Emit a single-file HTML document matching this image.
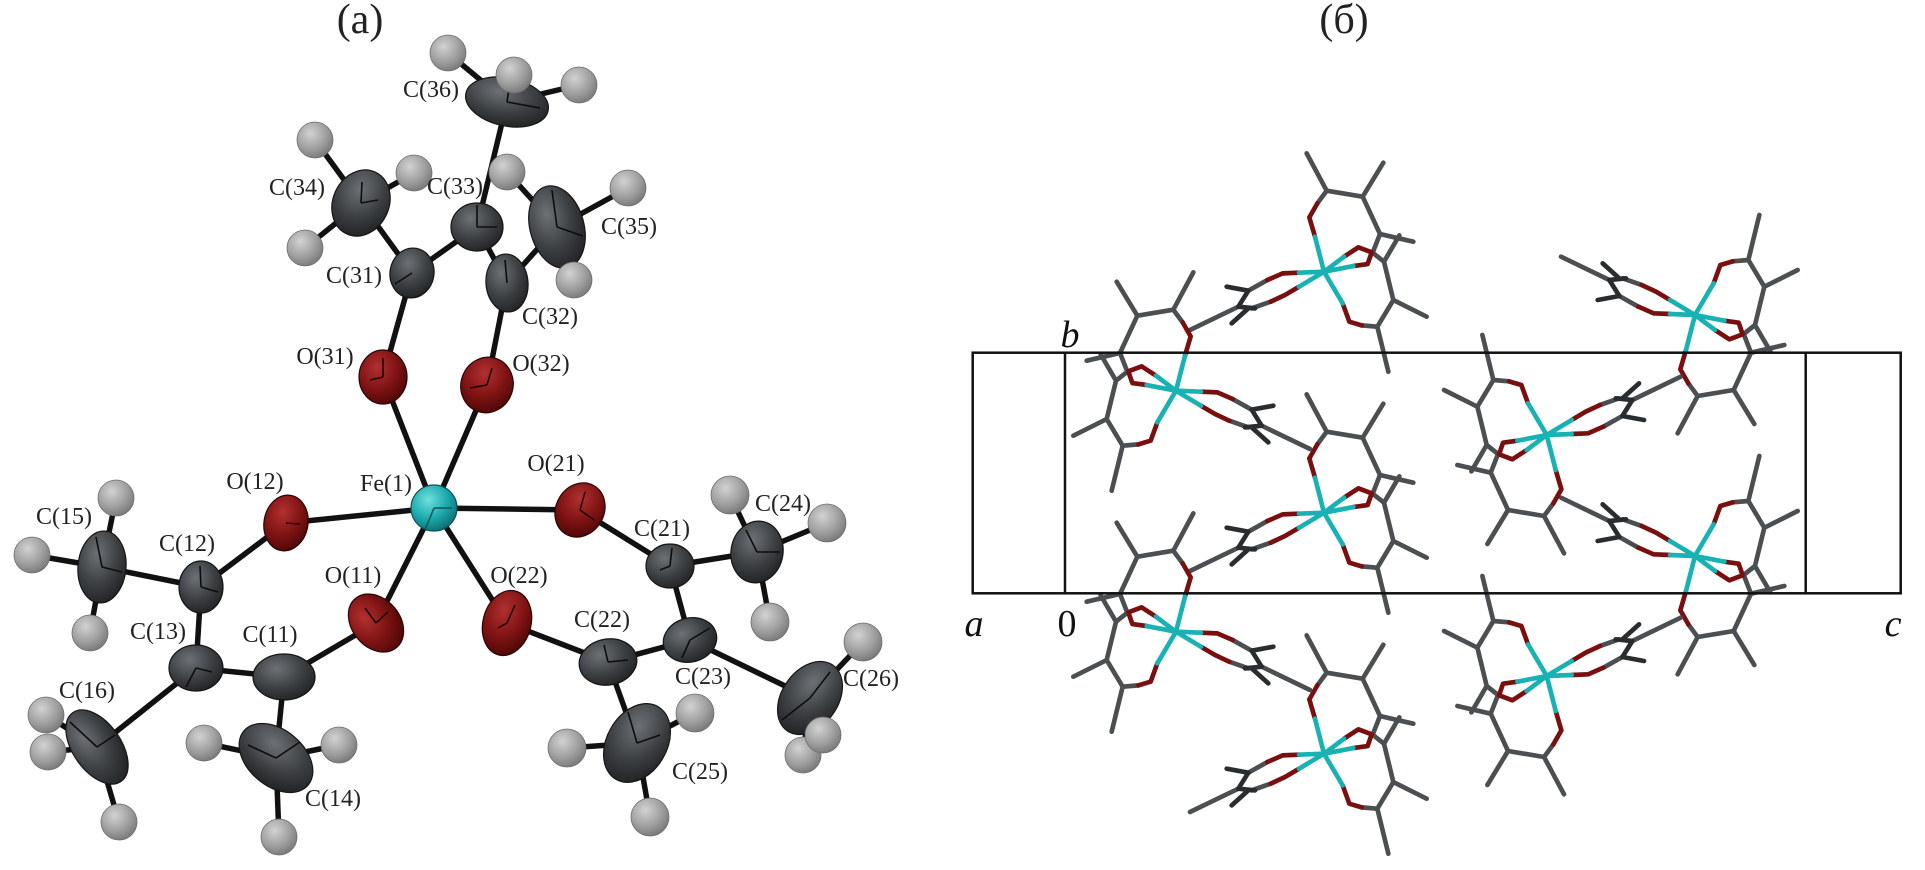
<!DOCTYPE html>
<html>
<head>
<meta charset="utf-8">
<style>
  html,body{margin:0;padding:0;background:#fff;}
  svg{display:block;}
  .lbl{font-family:"Liberation Serif",serif;font-size:24px;fill:#222;text-anchor:middle;}
  .ttl{font-family:"Liberation Serif","Noto Serif CJK SC",serif;font-size:42px;fill:#222;text-anchor:middle;}
  .ax{font-family:"Liberation Serif",serif;font-size:38px;fill:#111;text-anchor:middle;font-style:italic;}
  .ax0{font-family:"Liberation Serif",serif;font-size:38px;fill:#111;text-anchor:middle;}
</style>
</head>
<body>
<svg width="1925" height="870" viewBox="0 0 1925 870" xmlns="http://www.w3.org/2000/svg">
<defs>
  <radialGradient id="gC" cx="0.38" cy="0.32" r="0.7">
    <stop offset="0" stop-color="#6d7175"/>
    <stop offset="0.6" stop-color="#3d4043"/>
    <stop offset="1" stop-color="#232527"/>
  </radialGradient>
  <radialGradient id="gH" cx="0.38" cy="0.32" r="0.7">
    <stop offset="0" stop-color="#d2d2d2"/>
    <stop offset="0.65" stop-color="#9c9c9c"/>
    <stop offset="1" stop-color="#7a7a7a"/>
  </radialGradient>
  <radialGradient id="gO" cx="0.38" cy="0.32" r="0.7">
    <stop offset="0" stop-color="#b23030"/>
    <stop offset="0.6" stop-color="#7e1313"/>
    <stop offset="1" stop-color="#520808"/>
  </radialGradient>
  <radialGradient id="gFe" cx="0.38" cy="0.32" r="0.7">
    <stop offset="0" stop-color="#6fe0e0"/>
    <stop offset="0.6" stop-color="#1ba8ab"/>
    <stop offset="1" stop-color="#0f7275"/>
  </radialGradient>

  <g id="mA" transform="scale(0.33333) translate(-432,-395)" fill="none" stroke-linecap="round" stroke-linejoin="round" stroke-width="14">
    <path stroke="#4b4f52" d="M412,190 L440,152 L548,170 L600,282 L700,305 M440,152 L380,40 M548,170 L610,68 M600,282 L578,338 L612,365 L640,480 L740,530 M658,286 L612,365 M640,480 L592,560 L625,695 M592,560 L545,556 M262,420 L205,452 M272,485 L215,505 M175,500 L30,570"/>
    <path stroke="#2a2d2f" d="M140,440 L205,452 L175,500 L225,505 M205,505 L155,550"/>
    <path stroke="#7a0f0f" d="M405,290 L388,232 L412,190 M357,398 L308,400 L262,420 M357,440 L315,465 L272,485 M492,350 L535,322 L575,337 L563,372 L520,378 M488,490 L508,545 L545,556"/>
    <path stroke="#18b2b5" d="M432,395 L405,290 M432,395 L357,398 M432,395 L357,440 M432,395 L492,350 M432,395 L520,378 M432,395 L488,490"/>
  </g>
</defs>

<rect x="0" y="0" width="1925" height="870" fill="#fff"/>

<!-- ================= Panel (a) ================= -->
<text class="ttl" x="360" y="33">(a)</text>

<!-- bonds -->
<g stroke="#111" stroke-width="5.5" stroke-linecap="round">
  <!-- ligand 3 -->
  <line x1="507" y1="102" x2="477" y2="227"/>
  <line x1="507" y1="102" x2="448" y2="53"/>
  <line x1="507" y1="102" x2="514" y2="75"/>
  <line x1="507" y1="102" x2="579" y2="85"/>
  <line x1="361" y1="203" x2="315" y2="140"/>
  <line x1="361" y1="203" x2="414" y2="173"/>
  <line x1="361" y1="203" x2="305" y2="248"/>
  <line x1="361" y1="203" x2="412" y2="273"/>
  <line x1="477" y1="227" x2="412" y2="273"/>
  <line x1="477" y1="227" x2="507" y2="283"/>
  <line x1="557" y1="227" x2="507" y2="283"/>
  <line x1="557" y1="227" x2="507" y2="172"/>
  <line x1="557" y1="227" x2="628" y2="188"/>
  <line x1="557" y1="227" x2="574" y2="280"/>
  <line x1="412" y1="273" x2="383" y2="377"/>
  <line x1="507" y1="283" x2="487" y2="385"/>
  <line x1="383" y1="377" x2="434" y2="508"/>
  <line x1="487" y1="385" x2="434" y2="508"/>
  <!-- Fe -->
  <line x1="434" y1="508" x2="286" y2="523"/>
  <line x1="434" y1="508" x2="580" y2="510"/>
  <line x1="434" y1="508" x2="376" y2="623"/>
  <line x1="434" y1="508" x2="507" y2="623"/>
  <!-- ligand 1 -->
  <line x1="286" y1="523" x2="201" y2="587"/>
  <line x1="201" y1="587" x2="102" y2="567"/>
  <line x1="201" y1="587" x2="196" y2="668"/>
  <line x1="196" y1="668" x2="284" y2="677"/>
  <line x1="196" y1="668" x2="97" y2="747"/>
  <line x1="284" y1="677" x2="376" y2="623"/>
  <line x1="284" y1="677" x2="276" y2="758"/>
  <line x1="102" y1="567" x2="116" y2="498"/>
  <line x1="102" y1="567" x2="32" y2="555"/>
  <line x1="102" y1="567" x2="90" y2="633"/>
  <line x1="97" y1="747" x2="46" y2="715"/>
  <line x1="97" y1="747" x2="48" y2="752"/>
  <line x1="97" y1="747" x2="119" y2="822"/>
  <line x1="276" y1="758" x2="204" y2="743"/>
  <line x1="276" y1="758" x2="339" y2="745"/>
  <line x1="276" y1="758" x2="279" y2="837"/>
  <!-- ligand 2 -->
  <line x1="580" y1="510" x2="670" y2="566"/>
  <line x1="670" y1="566" x2="757" y2="552"/>
  <line x1="670" y1="566" x2="690" y2="640"/>
  <line x1="690" y1="640" x2="608" y2="662"/>
  <line x1="608" y1="662" x2="507" y2="623"/>
  <line x1="608" y1="662" x2="637" y2="743"/>
  <line x1="690" y1="640" x2="810" y2="698"/>
  <line x1="757" y1="552" x2="730" y2="495"/>
  <line x1="757" y1="552" x2="827" y2="523"/>
  <line x1="757" y1="552" x2="770" y2="622"/>
  <line x1="637" y1="743" x2="567" y2="748"/>
  <line x1="637" y1="743" x2="695" y2="713"/>
  <line x1="637" y1="743" x2="650" y2="817"/>
  <line x1="810" y1="698" x2="863" y2="642"/>
  <line x1="810" y1="698" x2="823" y2="735"/>
  <line x1="810" y1="698" x2="803" y2="755"/>
</g>

<!-- carbon ellipsoids -->
<g fill="url(#gC)" stroke="#151515" stroke-width="1.2">
  <ellipse cx="507" cy="102" rx="42" ry="24" transform="rotate(12 507 102)"/>
  <ellipse cx="361" cy="203" rx="28" ry="34" transform="rotate(25 361 203)"/>
  <ellipse cx="477" cy="227" rx="26" ry="24"/>
  <ellipse cx="557" cy="227" rx="27" ry="42" transform="rotate(-15 557 227)"/>
  <ellipse cx="412" cy="273" rx="22" ry="25" transform="rotate(10 412 273)"/>
  <ellipse cx="507" cy="283" rx="21" ry="29" transform="rotate(-5 507 283)"/>
  <ellipse cx="201" cy="587" rx="22" ry="26"/>
  <ellipse cx="102" cy="567" rx="24" ry="36" transform="rotate(5 102 567)"/>
  <ellipse cx="196" cy="668" rx="27" ry="23"/>
  <ellipse cx="284" cy="677" rx="31" ry="23"/>
  <ellipse cx="97" cy="747" rx="24" ry="42" transform="rotate(-35 97 747)"/>
  <ellipse cx="276" cy="758" rx="42" ry="28" transform="rotate(40 276 758)"/>
  <ellipse cx="670" cy="566" rx="24" ry="22"/>
  <ellipse cx="757" cy="552" rx="26" ry="31" transform="rotate(10 757 552)"/>
  <ellipse cx="608" cy="662" rx="29" ry="23" transform="rotate(-10 608 662)"/>
  <ellipse cx="690" cy="640" rx="27" ry="22" transform="rotate(-15 690 640)"/>
  <ellipse cx="637" cy="743" rx="30" ry="42" transform="rotate(30 637 743)"/>
  <ellipse cx="810" cy="698" rx="28" ry="40" transform="rotate(35 810 698)"/>
</g>
<!-- octant hints -->
<g stroke="#0d0d0d" stroke-width="1.6" fill="none">
  <path d="M507,102 L510,82 M507,102 L540,108"/>
  <path d="M361,203 L362,182 M361,203 L378,200"/>
  <path d="M477,227 L477,205 M477,227 L497,227"/>
  <path d="M557,227 L552,190 M557,227 L583,236"/>
  <path d="M412,273 L395,284"/>
  <path d="M507,283 L505,260"/>
  <path d="M201,587 L200,566 M201,587 L218,592"/>
  <path d="M102,567 L96,537 M102,567 L122,572"/>
  <path d="M196,668 L212,672 M196,668 L186,687"/>
  <path d="M97,747 L70,722 M97,747 L115,735"/>
  <path d="M276,758 L248,745 M276,758 L300,742"/>
  <path d="M670,566 L660,570 M670,566 L672,548"/>
  <path d="M757,552 L746,530 M757,552 L780,552"/>
  <path d="M608,662 L604,645 M608,662 L628,660"/>
  <path d="M690,640 L710,628 M690,640 L682,658"/>
  <path d="M637,743 L628,712 M637,743 L660,735"/>
  <path d="M810,698 L830,672 M810,698 L782,720"/>
</g>

<!-- oxygens -->
<g fill="url(#gO)" stroke="#2a0404" stroke-width="1.2">
  <ellipse cx="383" cy="377" rx="24" ry="27"/>
  <ellipse cx="487" cy="385" rx="26" ry="28" transform="rotate(20 487 385)"/>
  <ellipse cx="286" cy="523" rx="22" ry="28" transform="rotate(10 286 523)"/>
  <ellipse cx="580" cy="510" rx="24" ry="28" transform="rotate(30 580 510)"/>
  <ellipse cx="376" cy="623" rx="24" ry="32" transform="rotate(-40 376 623)"/>
  <ellipse cx="507" cy="623" rx="24" ry="33" transform="rotate(15 507 623)"/>
</g>
<g stroke="#1a0202" stroke-width="1.5" fill="none">
  <path d="M383,377 L383,358 M383,377 L370,380"/>
  <path d="M487,385 L492,368 M487,385 L470,388"/>
  <path d="M286,523 L300,524"/>
  <path d="M580,510 L585,492 M580,510 L594,520"/>
  <path d="M376,623 L365,608 M376,623 L388,612"/>
  <path d="M507,623 L515,605 M507,623 L498,628"/>
</g>

<!-- iron -->
<circle cx="434" cy="508" r="23" fill="url(#gFe)" stroke="#0b5557" stroke-width="1.2"/>
<path d="M434,508 L425,530 M434,508 L452,508" stroke="#0b5557" stroke-width="1.5" fill="none"/>

<!-- hydrogens -->
<g fill="url(#gH)" stroke="#6e6e6e" stroke-width="0.8">
  <circle cx="448" cy="53" r="18"/>
  <circle cx="514" cy="75" r="18"/>
  <circle cx="579" cy="85" r="18"/>
  <circle cx="315" cy="140" r="18"/>
  <circle cx="414" cy="173" r="18"/>
  <circle cx="305" cy="248" r="18"/>
  <circle cx="507" cy="172" r="18"/>
  <circle cx="628" cy="188" r="18"/>
  <circle cx="574" cy="280" r="18"/>
  <circle cx="116" cy="498" r="18"/>
  <circle cx="32" cy="555" r="18"/>
  <circle cx="90" cy="633" r="18"/>
  <circle cx="46" cy="715" r="18"/>
  <circle cx="48" cy="752" r="18"/>
  <circle cx="119" cy="822" r="18"/>
  <circle cx="204" cy="743" r="18"/>
  <circle cx="339" cy="745" r="18"/>
  <circle cx="279" cy="837" r="18"/>
  <circle cx="730" cy="495" r="19"/>
  <circle cx="827" cy="523" r="19"/>
  <circle cx="770" cy="622" r="19"/>
  <circle cx="567" cy="748" r="19"/>
  <circle cx="695" cy="713" r="19"/>
  <circle cx="650" cy="817" r="19"/>
  <circle cx="863" cy="642" r="19"/>
  <circle cx="803" cy="755" r="18"/>
  <circle cx="823" cy="735" r="18"/>
</g>

<!-- labels -->
<g class="lbl">
  <text class="lbl" x="431" y="97">C(36)</text>
  <text class="lbl" x="297" y="195">C(34)</text>
  <text class="lbl" x="455" y="194">C(33)</text>
  <text class="lbl" x="629" y="234">C(35)</text>
  <text class="lbl" x="354" y="283">C(31)</text>
  <text class="lbl" x="550" y="324">C(32)</text>
  <text class="lbl" x="325" y="364">O(31)</text>
  <text class="lbl" x="541" y="371">O(32)</text>
  <text class="lbl" x="386" y="491">Fe(1)</text>
  <text class="lbl" x="255" y="489">O(12)</text>
  <text class="lbl" x="556" y="471">O(21)</text>
  <text class="lbl" x="353" y="583">O(11)</text>
  <text class="lbl" x="519" y="583">O(22)</text>
  <text class="lbl" x="187" y="551">C(12)</text>
  <text class="lbl" x="64" y="524">C(15)</text>
  <text class="lbl" x="158" y="639">C(13)</text>
  <text class="lbl" x="270" y="642">C(11)</text>
  <text class="lbl" x="87" y="698">C(16)</text>
  <text class="lbl" x="333" y="806">C(14)</text>
  <text class="lbl" x="662" y="536">C(21)</text>
  <text class="lbl" x="602" y="627">C(22)</text>
  <text class="lbl" x="703" y="684">C(23)</text>
  <text class="lbl" x="700" y="779">C(25)</text>
  <text class="lbl" x="783" y="511">C(24)</text>
  <text class="lbl" x="871" y="686">C(26)</text>
</g>

<!-- ================= Panel (б) ================= -->
<text class="ttl" x="1344" y="33">(б)</text>

<!-- molecules -->
<use href="#mA" transform="translate(1324,271.7)"/>
<use href="#mA" transform="translate(1324,512.7)"/>
<use href="#mA" transform="translate(1324,753.7)"/>
<use href="#mA" transform="translate(1176,390.7) scale(-1,1)"/>
<use href="#mA" transform="translate(1176,631.7) scale(-1,1)"/>
<use href="#mA" transform="translate(1695,315) scale(1,-1)"/>
<use href="#mA" transform="translate(1695,556) scale(1,-1)"/>
<use href="#mA" transform="translate(1546.7,435) scale(-1,-1)"/>
<use href="#mA" transform="translate(1546.7,676) scale(-1,-1)"/>

<!-- unit cell -->
<g stroke="#111" stroke-width="2.5" fill="none">
  <rect x="972.7" y="352.7" width="928" height="240.6"/>
  <line x1="1065" y1="352.7" x2="1065" y2="593.3"/>
  <line x1="1805.7" y1="352.7" x2="1805.7" y2="593.3"/>
</g>

<text class="ax" x="1070" y="347">b</text>
<text class="ax" x="974" y="636">a</text>
<text class="ax0" x="1067" y="636">0</text>
<text class="ax" x="1893" y="636">c</text>
</svg>
</body>
</html>
